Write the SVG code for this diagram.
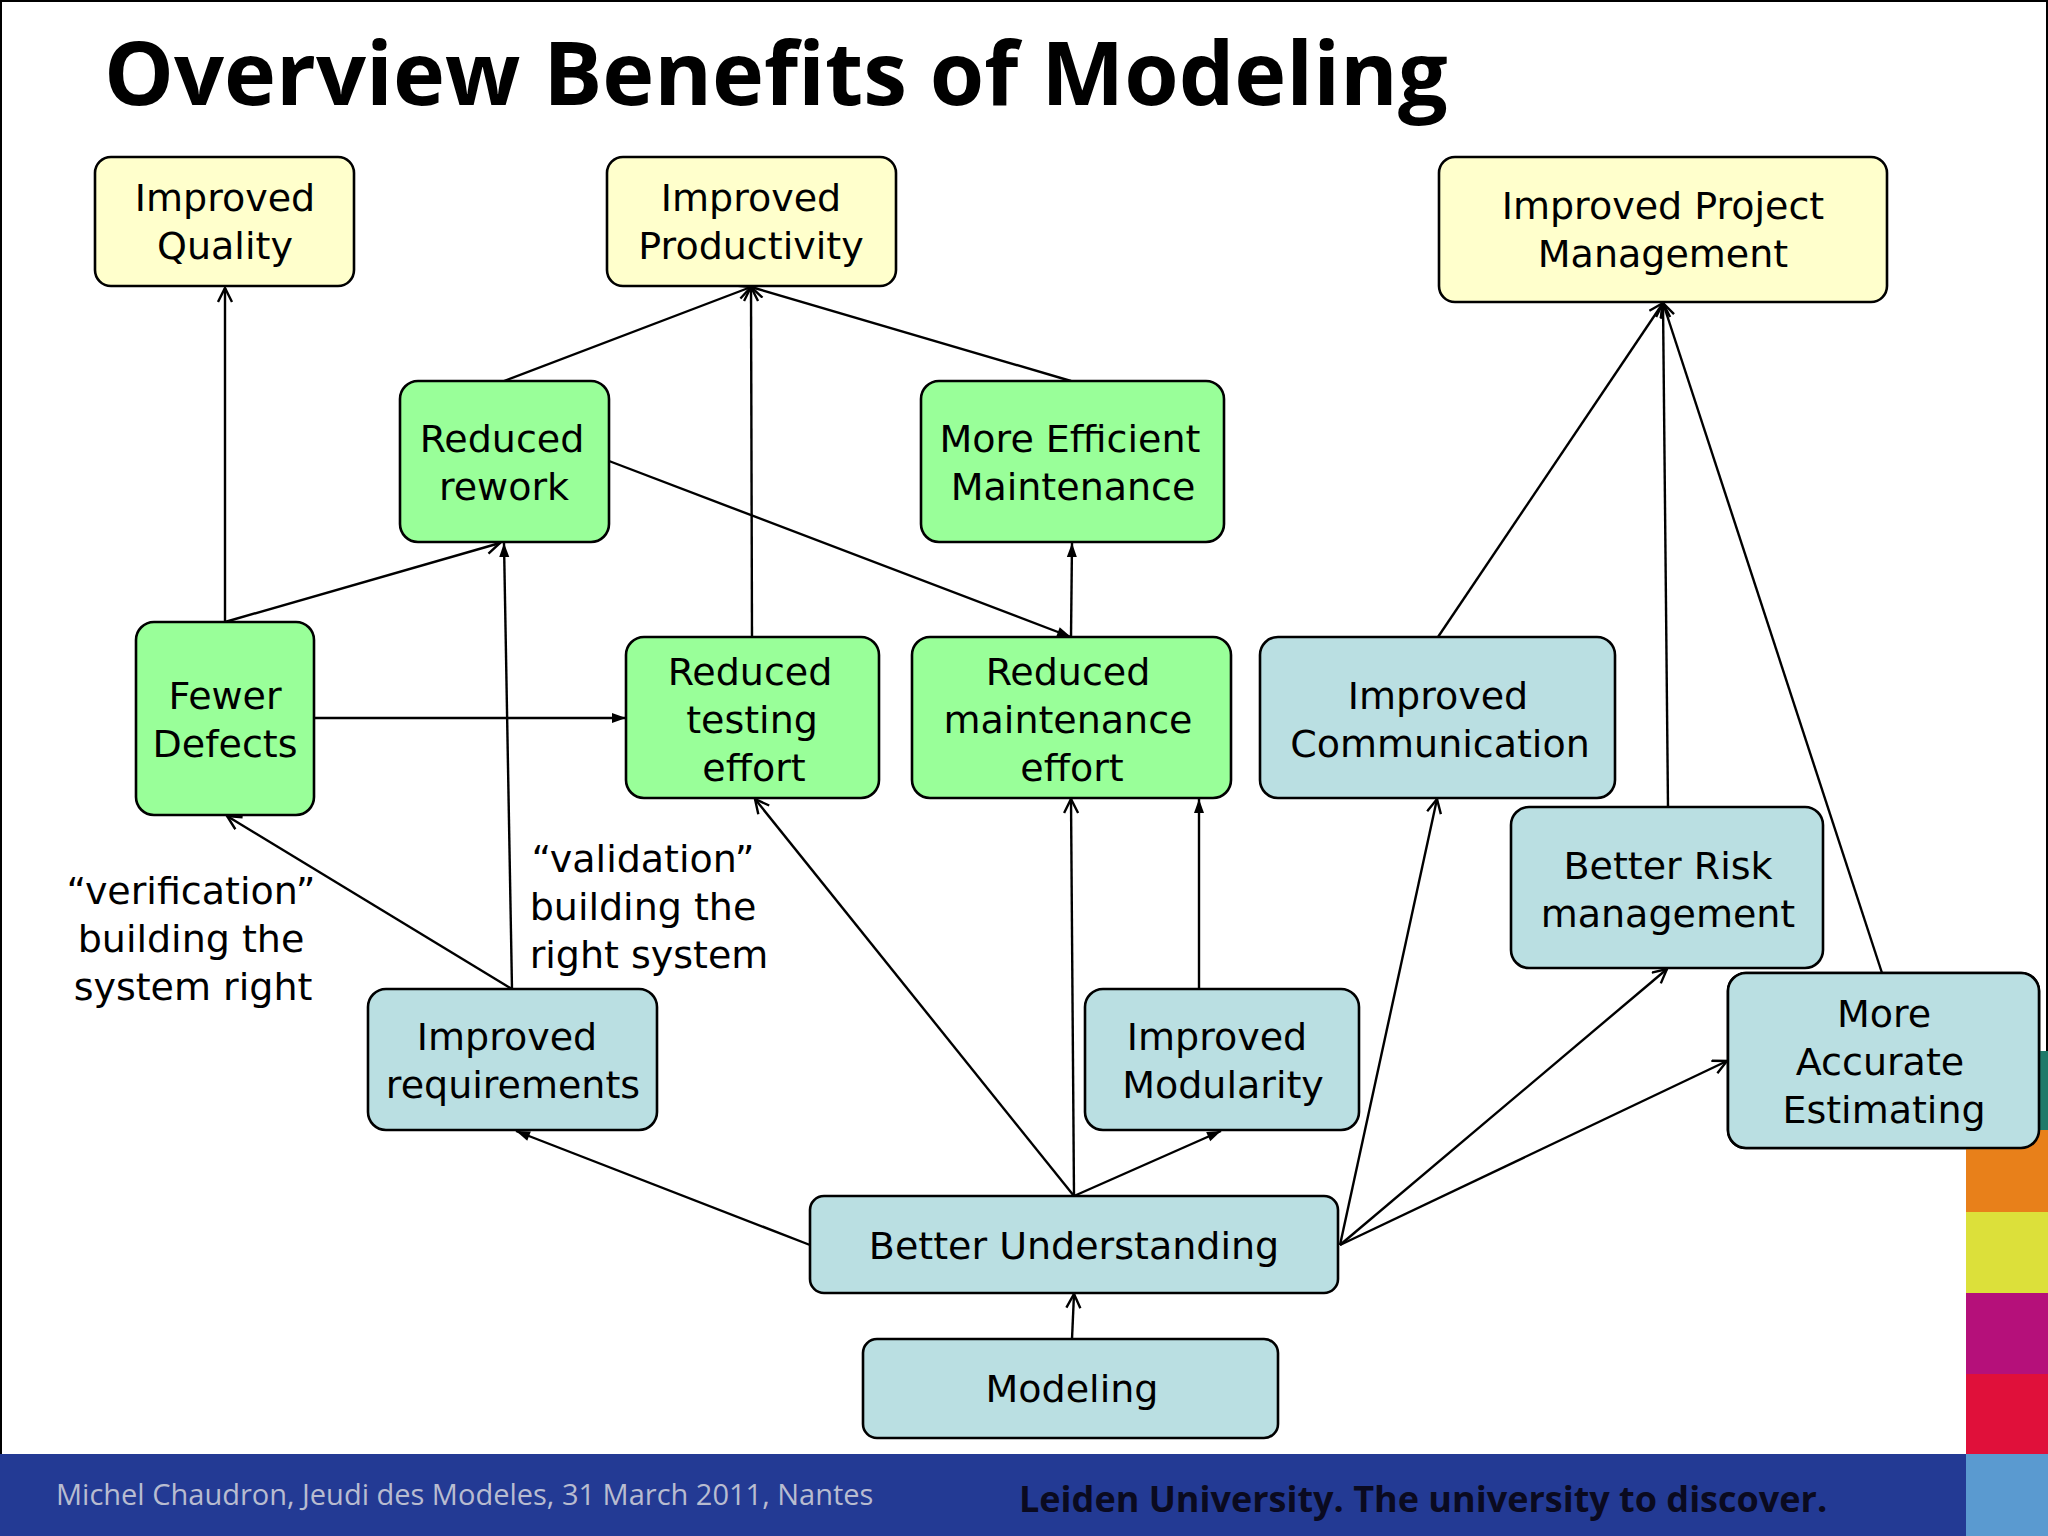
<svg xmlns="http://www.w3.org/2000/svg" width="2048" height="1536" viewBox="0 0 2048 1536">
<style>
.n{stroke:#000;stroke-width:2.6}
.y{fill:#FFFFCC}.g{fill:#99FF99}.b{fill:#BADFE2}
.t{font-family:"DejaVu Sans",sans-serif;font-size:38px;text-anchor:middle;fill:#000}
.l{font-family:"DejaVu Sans",sans-serif;font-size:38px;fill:#000}
.c line{stroke:#000;stroke-width:2.4}
</style>
<defs>
<marker id="o" markerWidth="20" markerHeight="20" refX="16" refY="8" orient="auto" markerUnits="userSpaceOnUse"><path d="M2,1 L16,8 L2,15" fill="none" stroke="#000" stroke-width="2.4"/></marker>
<marker id="f" markerWidth="20" markerHeight="20" refX="16" refY="7" orient="auto" markerUnits="userSpaceOnUse"><path d="M2,2 L16,7 L2,12 Z" fill="#000"/></marker>
</defs>
<rect width="2048" height="1536" fill="#fff"/>
<rect x="1" y="1" width="2046" height="1534" fill="none" stroke="#000" stroke-width="2"/>
<text x="104" y="105" font-family="'Open Sans',sans-serif" font-weight="bold" font-size="88" fill="#000">Overview Benefits of Modeling</text>
<g class="c">
<line x1="225" y1="622" x2="225" y2="288" marker-end="url(#o)"/>
<line x1="225" y1="622" x2="500" y2="543" marker-end="url(#o)"/>
<line x1="504" y1="381" x2="751" y2="287" marker-end="url(#o)"/>
<line x1="1071" y1="381" x2="751" y2="287" marker-end="url(#o)"/>
<line x1="752" y1="637" x2="751" y2="287" marker-end="url(#o)"/>
<line x1="609" y1="461" x2="1071" y2="637" marker-end="url(#f)"/>
<line x1="1071" y1="637" x2="1072" y2="543" marker-end="url(#f)"/>
<line x1="314" y1="718" x2="626" y2="718" marker-end="url(#f)"/>
<line x1="512" y1="989" x2="504" y2="543" marker-end="url(#f)"/>
<line x1="512" y1="989" x2="227" y2="816" marker-end="url(#o)"/>
<line x1="1074" y1="1196" x2="755" y2="799" marker-end="url(#o)"/>
<line x1="1074" y1="1196" x2="1071" y2="799" marker-end="url(#o)"/>
<line x1="1074" y1="1196" x2="1221" y2="1131" marker-end="url(#f)"/>
<line x1="1199" y1="989" x2="1199" y2="799" marker-end="url(#f)"/>
<line x1="810" y1="1245" x2="516" y2="1131" marker-end="url(#f)"/>
<line x1="1340" y1="1245" x2="1437" y2="799" marker-end="url(#o)"/>
<line x1="1340" y1="1245" x2="1667" y2="969" marker-end="url(#o)"/>
<line x1="1340" y1="1245" x2="1727" y2="1061" marker-end="url(#o)"/>
<line x1="1072" y1="1339" x2="1074" y2="1294" marker-end="url(#o)"/>
<line x1="1438" y1="637" x2="1663" y2="303" marker-end="url(#o)"/>
<line x1="1668" y1="807" x2="1663" y2="303" marker-end="url(#o)"/>
<line x1="1882" y1="973" x2="1663" y2="303" marker-end="url(#o)"/>
</g>
<g id="quality"><rect class="n y" x="95" y="157" width="259" height="129" rx="16"/><text class="t" x="225" y="211">Improved<tspan x="225" dy="48">Quality</tspan></text></g>
<g id="productivity"><rect class="n y" x="607" y="157" width="289" height="129" rx="16"/><text class="t" x="751" y="211">Improved<tspan x="751" dy="48">Productivity</tspan></text></g>
<g id="pm"><rect class="n y" x="1439" y="157" width="448" height="145" rx="16"/><text class="t" x="1663" y="219">Improved Project<tspan x="1663" dy="48">Management</tspan></text></g>
<g id="rework"><rect class="n g" x="400" y="381" width="209" height="161" rx="18"/><text class="t" x="502" y="452">Reduced<tspan x="504" dy="48">rework</tspan></text></g>
<g id="mem"><rect class="n g" x="921" y="381" width="303" height="161" rx="18"/><text class="t" x="1070" y="452">More Efficient<tspan x="1073" dy="48">Maintenance</tspan></text></g>
<g id="defects"><rect class="n g" x="136" y="622" width="178" height="193" rx="18"/><text class="t" x="225" y="709">Fewer<tspan x="225" dy="48">Defects</tspan></text></g>
<g id="testing"><rect class="n g" x="626" y="637" width="253" height="161" rx="18"/><text class="t" x="750" y="685">Reduced<tspan x="752" dy="48">testing</tspan><tspan x="754" dy="48">effort</tspan></text></g>
<g id="maint"><rect class="n g" x="912" y="637" width="319" height="161" rx="18"/><text class="t" x="1068" y="685">Reduced<tspan x="1068" dy="48">maintenance</tspan><tspan x="1072" dy="48">effort</tspan></text></g>
<g id="comm"><rect class="n b" x="1260" y="637" width="355" height="161" rx="18"/><text class="t" x="1438" y="709">Improved<tspan x="1440" dy="48">Communication</tspan></text></g>
<g id="risk"><rect class="n b" x="1511" y="807" width="312" height="161" rx="18"/><text class="t" x="1668" y="879">Better Risk<tspan x="1668" dy="48">management</tspan></text></g>
<g id="estim"><rect class="n b" x="1728" y="973" width="311" height="175" rx="18"/><text class="t" x="1884" y="1027">More<tspan x="1880" dy="48">Accurate</tspan><tspan x="1884" dy="48">Estimating</tspan></text></g>
<g id="req"><rect class="n b" x="368" y="989" width="289" height="141" rx="18"/><text class="t" x="507" y="1050">Improved<tspan x="513" dy="48">requirements</tspan></text></g>
<g id="modul"><rect class="n b" x="1085" y="989" width="274" height="141" rx="18"/><text class="t" x="1217" y="1050">Improved<tspan x="1223" dy="48">Modularity</tspan></text></g>
<g id="under"><rect class="n b" x="810" y="1196" width="528" height="97" rx="14"/><text class="t" x="1074" y="1259">Better Understanding</text></g>
<g id="model"><rect class="n b" x="863" y="1339" width="415" height="99" rx="14"/><text class="t" x="1072" y="1402">Modeling</text></g>
<g id="lbl1"><text class="t" x="191" y="904">“verification”<tspan x="191" dy="48">building the</tspan><tspan x="193" dy="48">system right</tspan></text></g>
<g id="lbl2"><text class="t" x="643" y="872">“validation”<tspan x="643" dy="48">building the</tspan><tspan x="649" dy="48">right system</tspan></text></g>
<rect x="0" y="1454" width="1966" height="82" fill="#233A94"/>
<rect x="1966" y="1051" width="82" height="79" fill="#1E7A6A"/>
<rect x="1966" y="1130" width="82" height="82" fill="#E8801A"/>
<rect x="1966" y="1212" width="82" height="81" fill="#DCE03A"/>
<rect x="1966" y="1293" width="82" height="81" fill="#B5107A"/>
<rect x="1966" y="1374" width="82" height="80" fill="#E0103A"/>
<rect x="1966" y="1454" width="82" height="82" fill="#5A9AD0"/>
<rect class="n b" x="1728" y="973" width="311" height="175" rx="18"/>
<text class="t" x="1884" y="1027">More<tspan x="1880" dy="48">Accurate</tspan><tspan x="1884" dy="48">Estimating</tspan></text>
<text x="56" y="1505" font-family="'Open Sans',sans-serif" font-size="29" fill="#B8BCD0">Michel Chaudron, Jeudi des Modeles, 31 March 2011, Nantes</text>
<text x="1019" y="1512" font-family="'Open Sans',sans-serif" font-weight="bold" font-size="36" fill="#0A0A20">Leiden University. The university to discover.</text>
</svg>
